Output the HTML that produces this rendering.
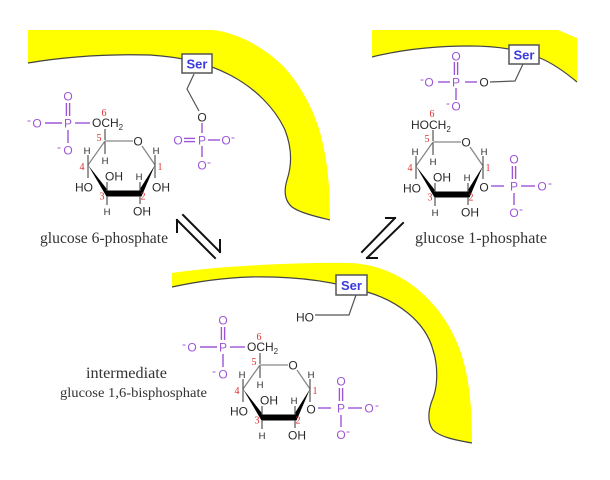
<!DOCTYPE html>
<html><head><meta charset="utf-8"><style>
html,body{margin:0;padding:0;background:#fff;}
svg{display:block;}
.a{font-family:"Liberation Sans",Arial,sans-serif;font-size:12px;fill:#2a2a2a;text-anchor:middle;}
.h{font-family:"Liberation Sans",Arial,sans-serif;font-size:9.5px;fill:#2a2a2a;text-anchor:middle;}
.p{font-family:"Liberation Sans",Arial,sans-serif;font-size:12px;fill:#9d55d6;text-anchor:middle;}
.n{font-family:"Liberation Serif",serif;font-size:10px;fill:#d93030;text-anchor:middle;}
.lab{font-family:"Liberation Serif",serif;fill:#333;}
.ser{font-family:"Liberation Sans",Arial,sans-serif;font-size:13px;font-weight:bold;fill:#3b3bdc;text-anchor:middle;}
.pl{stroke:#9d55d6;stroke-width:1.4;fill:none;}
.bl{stroke:#555;stroke-width:1.2;fill:none;}
.th{stroke:#888;stroke-width:1.3;fill:none;}
</style></head><body>
<svg width="610" height="480" viewBox="0 0 610 480" xmlns="http://www.w3.org/2000/svg">
<rect width="610" height="480" fill="#fff"/>
<defs>
<g id="ring">
  <line class="th" x1="0" y1="0" x2="28" y2="0"/>
  <line class="th" x1="37" y1="5" x2="50" y2="24"/>
  <line class="th" x1="0" y1="0" x2="-17" y2="24"/>
  <polygon points="-17,24 3,49.5 34,49.5 50,24 36.5,55.5 1.5,55.5" fill="#000"/>
  <line class="bl" x1="0" y1="-1" x2="0" y2="-12"/>
  <line class="bl" x1="0" y1="1" x2="0" y2="13"/>
  <line class="bl" x1="-17" y1="24" x2="-17" y2="14"/>
  <line class="bl" x1="-17" y1="24" x2="-17" y2="37"/>
  <line class="bl" x1="50" y1="24" x2="50" y2="14"/>
  <line class="bl" x1="50" y1="24" x2="50" y2="37"/>
  <line class="bl" x1="2" y1="50" x2="2" y2="41"/>
  <line class="bl" x1="2" y1="55" x2="2" y2="64"/>
  <line class="bl" x1="35" y1="50" x2="35" y2="41"/>
  <line class="bl" x1="35" y1="55" x2="35" y2="63"/>
  <text class="a" x="33" y="4.5">O</text>
  <text class="h" x="0" y="23">H</text>
  <text class="h" x="-18" y="13">H</text>
  <text class="a" x="-21" y="50.5">HO</text>
  <text class="h" x="51" y="13">H</text>
  <text class="a" x="9" y="39.5">OH</text>
  <text class="h" x="2" y="74">H</text>
  <text class="h" x="34" y="39">H</text>
  <text class="a" x="37" y="74.5">OH</text>
  <text class="n" x="-6" y="0">5</text>
  <text class="n" x="-23" y="29">4</text>
  <text class="n" x="-3" y="58.5">3</text>
  <text class="n" x="38" y="58.5">2</text>
  <text class="n" x="55" y="29">1</text>
  <text class="n" x="-1" y="-25">6</text>
</g>
<g id="p6">
  <text class="a" x="-13" y="-14" style="text-anchor:start">OCH<tspan font-size="8" dy="3">2</tspan></text>
  <line class="pl" x1="-30" y1="-18" x2="-15" y2="-18"/>
  <text class="p" x="-37" y="-13.5">P</text>
  <line class="pl" x1="-60" y1="-18" x2="-43" y2="-18"/>
  <text class="p" x="-68" y="-13.5">O</text>
  <text class="p" x="-76" y="-17" font-size="9">-</text>
  <text class="p" x="-37" y="-40.5">O</text>
  <line class="pl" x1="-38.6" y1="-38" x2="-38.6" y2="-25"/>
  <line class="pl" x1="-35.4" y1="-38" x2="-35.4" y2="-25"/>
  <line class="pl" x1="-37" y1="-11" x2="-37" y2="2"/>
  <text class="p" x="-37" y="13.5">O</text>
  <text class="p" x="-46" y="10" font-size="9">-</text>
</g>
<g id="p1">
  <line class="pl" x1="58" y1="44" x2="71" y2="44"/>
  <text class="p" x="81" y="48.5">P</text>
  <line class="pl" x1="88" y1="44" x2="102" y2="44"/>
  <text class="p" x="109" y="48.5">O</text>
  <text class="p" x="117" y="45" font-size="9">-</text>
  <text class="p" x="81" y="21.5">O</text>
  <line class="pl" x1="79.4" y1="24" x2="79.4" y2="37"/>
  <line class="pl" x1="82.6" y1="24" x2="82.6" y2="37"/>
  <line class="pl" x1="81" y1="51" x2="81" y2="63"/>
  <text class="p" x="81" y="75">O</text>
  <text class="p" x="88" y="71" font-size="9">-</text>
</g>
</defs>

<!-- yellow shapes -->
<path d="M28,30 L213,30 C240,33 268,50 285,68 C300,85 315,110 322,140 C328,165 330,190 330,220 C318,217 300,213 292,207 C284,200 284,190 287,180 C292,165 292,148 285,130 C275,108 255,88 230,75 C205,62 180,57 150,55 C110,54 70,56 28,63 Z" fill="#ffff00"/>
<path d="M28,63 C70,56 110,54 150,55 C180,57 205,62 230,75 C255,88 275,108 285,130 C292,148 292,165 287,180 C284,190 284,200 292,207 C300,213 318,217 330,220" fill="none" stroke="#444" stroke-width="1.2"/>
<path d="M372,30 L558,30 L577,38 L577,82 C565,72 552,63 540,58 C520,50 500,46 470,46 C430,46 400,50 372,57 Z" fill="#ffff00"/>
<path d="M372,57 C400,50 430,46 470,46 C500,46 520,50 540,58 C552,63 565,72 577,82" fill="none" stroke="#444" stroke-width="1.2"/>
<path d="M172,273 C220,266 300,262 350,263 C400,265 440,300 458,345 C470,375 472,410 472,443 C455,440 440,437 433,430 C427,422 428,410 433,398 C438,385 438,365 433,350 C425,320 395,300 367,292 C330,280 290,276 250,277 C220,278 195,282 172,287 Z" fill="#ffff00"/>
<path d="M172,287 C195,282 220,278 250,277 C290,276 330,280 367,292 C395,300 425,320 433,350 C438,365 438,385 433,398 C428,410 427,422 433,430 C440,437 455,440 472,443" fill="none" stroke="#444" stroke-width="1.2"/>

<!-- Ser TL -->
<polyline points="194,74 187,89 199,111" class="bl" stroke="#444"/>
<rect x="182" y="54" width="30" height="19" fill="#fff" stroke="#555" stroke-width="1.5"/>
<text class="ser" x="197" y="68.5">Ser</text>
<text class="a" x="202" y="121.5">O</text>
<line class="pl" x1="202" y1="123" x2="202" y2="133"/>
<text class="p" x="202" y="144.5">P</text>
<line class="pl" x1="184" y1="138.4" x2="195" y2="138.4"/>
<line class="pl" x1="184" y1="141.6" x2="195" y2="141.6"/>
<text class="p" x="178" y="144.5">O</text>
<line class="pl" x1="208" y1="140" x2="220" y2="140"/>
<text class="p" x="226" y="144.5">O</text>
<text class="p" x="233" y="141" font-size="9">-</text>
<line class="pl" x1="202" y1="146" x2="202" y2="157"/>
<text class="p" x="202" y="169.5">O</text>
<text class="p" x="209" y="166" font-size="9">-</text>

<!-- Ser TR -->
<polyline points="523,64 515,81 490,82" class="bl" stroke="#444"/>
<rect x="509" y="45" width="30" height="19" fill="#fff" stroke="#555" stroke-width="1.5"/>
<text class="ser" x="524" y="59.5">Ser</text>
<text class="a" x="484" y="86.5">O</text>
<line class="pl" x1="465" y1="82" x2="477" y2="82"/>
<text class="p" x="456" y="86.5">P</text>
<line class="pl" x1="438" y1="82" x2="450" y2="82"/>
<text class="p" x="429" y="86.5">O</text>
<text class="p" x="422" y="83" font-size="9">-</text>
<text class="p" x="456" y="60.5">O</text>
<line class="pl" x1="454.4" y1="62" x2="454.4" y2="75"/>
<line class="pl" x1="457.6" y1="62" x2="457.6" y2="75"/>
<line class="pl" x1="456" y1="88" x2="456" y2="100"/>
<text class="p" x="456" y="110.5">O</text>
<text class="p" x="448" y="107" font-size="9">-</text>

<!-- Ser bottom -->
<polyline points="356,295 349,315 315,315" class="bl" stroke="#444"/>
<rect x="336" y="275" width="31" height="20" fill="#fff" stroke="#555" stroke-width="1.5"/>
<text class="ser" x="351.5" y="290">Ser</text>
<text class="a" x="305" y="321.5">HO</text>

<!-- TL glucose 6-phosphate -->
<g transform="translate(105,141)">
  <use href="#ring"/>
  <use href="#p6"/>
  <text class="a" x="56" y="50.5">OH</text>
</g>

<!-- TR glucose 1-phosphate -->
<g transform="translate(433,142)">
  <use href="#ring"/>
  <text class="a" x="-22" y="-13" style="text-anchor:start">HOCH<tspan font-size="8" dy="3">2</tspan></text>
  <text class="a" x="51" y="49.5">O</text>
  <use href="#p1"/>
</g>

<!-- bottom intermediate -->
<g transform="translate(260,365)">
  <use href="#ring"/>
  <use href="#p6"/>
  <text class="a" x="51" y="48.5">O</text>
  <g transform="translate(0,-1)"><use href="#p1"/></g>
</g>

<!-- equilibrium arrows -->
<g stroke="#111" stroke-width="2" fill="none" stroke-linecap="square">
  <line x1="177" y1="220" x2="215" y2="258"/>
  <line x1="177" y1="220" x2="177" y2="232"/>
  <line x1="183" y1="215" x2="220" y2="252"/>
  <line x1="220" y1="252" x2="220" y2="240"/>
  <line x1="362" y1="252" x2="395" y2="218"/>
  <line x1="395" y1="218" x2="386" y2="218"/>
  <line x1="367" y1="258" x2="403" y2="223"/>
  <line x1="367" y1="258" x2="377" y2="258"/>
</g>

<!-- labels -->
<text class="lab" x="40" y="243" font-size="16" textLength="128" lengthAdjust="spacingAndGlyphs">glucose 6-phosphate</text>
<text class="lab" x="415" y="243" font-size="16" textLength="132" lengthAdjust="spacingAndGlyphs">glucose 1-phosphate</text>
<text class="lab" x="86" y="378" font-size="16" textLength="81" lengthAdjust="spacingAndGlyphs">intermediate</text>
<text class="lab" x="60" y="397" font-size="14" textLength="147" lengthAdjust="spacingAndGlyphs">glucose 1,6-bisphosphate</text>
</svg>
</body></html>
